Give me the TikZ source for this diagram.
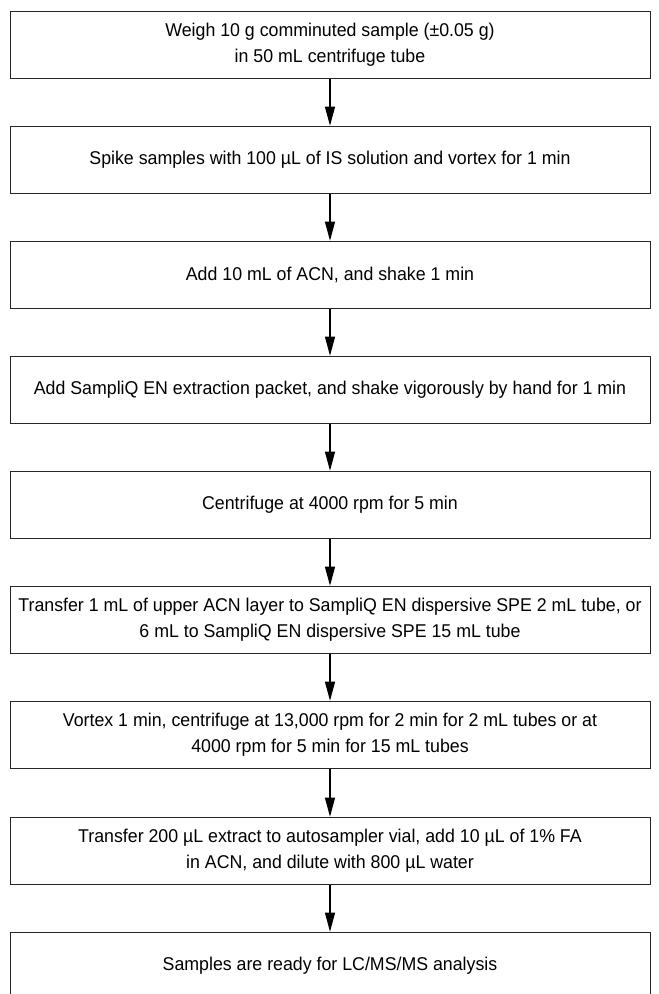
\documentclass[tikz,border=0pt]{standalone}
\usepackage{fontspec}
\setmainfont{Liberation Sans}[FakeStretch=0.96]
\usetikzlibrary{arrows.meta}
\tikzset{
  stepbox/.style={draw=black!85, line width=1pt, minimum width=640pt, minimum height=67pt,
    inner sep=0pt, align=center, font=\fontsize{18.5pt}{26pt}\selectfont, anchor=north},
  arr/.style={line width=1.1pt, -{Triangle[length=19pt,width=10pt]}, shorten >=0.3pt}
}
\begin{document}
\begin{tikzpicture}[x=1pt,y=-1pt]
\useasboundingbox (0,0) rectangle (659,994);
\clip (0,0) rectangle (659,994);
\node[stepbox] (b1) at (330,11) {Weigh 10 g comminuted sample (±0.05 g)\\in 50 mL centrifuge tube};
\node[stepbox] (b2) at (330,126) {Spike samples with 100 µL of IS solution and vortex for 1 min};
\node[stepbox] (b3) at (330,241) {Add 10 mL of ACN, and shake 1 min};
\node[stepbox] (b4) at (330,356) {Add SampliQ EN extraction packet, and shake vigorously by hand for 1 min};
\node[stepbox] (b5) at (330,471) {Centrifuge at 4000 rpm for 5 min};
\node[stepbox] (b6) at (330,586) {Transfer 1 mL of upper ACN layer to SampliQ EN dispersive SPE 2 mL tube, or\\6 mL to SampliQ EN dispersive SPE 15 mL tube};
\node[stepbox] (b7) at (330,701) {Vortex 1 min, centrifuge at 13,000 rpm for 2 min for 2 mL tubes or at\\4000 rpm for 5 min for 15 mL tubes};
\node[stepbox] (b8) at (330,817) {Transfer 200 µL extract to autosampler vial, add 10 µL of 1\% FA\\in ACN, and dilute with 800 µL water};
\node[stepbox] (b9) at (330,932) {Samples are ready for LC/MS/MS analysis};
\foreach \a/\b in {b1/b2,b2/b3,b3/b4,b4/b5,b5/b6,b6/b7,b7/b8,b8/b9}
  \draw[arr] (\a) -- (\b);
\end{tikzpicture}
\end{document}
